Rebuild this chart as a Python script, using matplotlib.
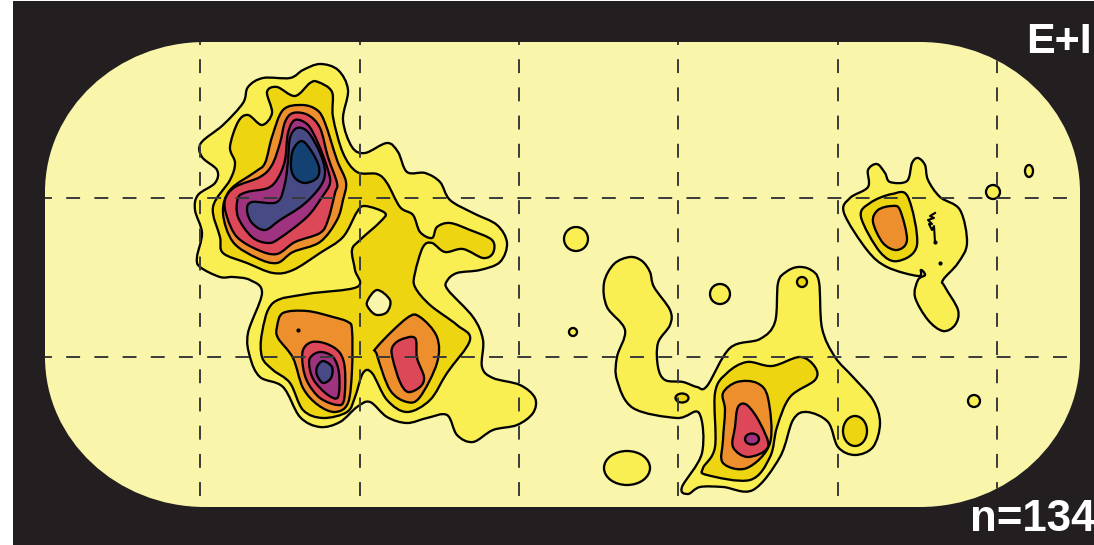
import numpy as np
import matplotlib
matplotlib.use("Agg")
import matplotlib.pyplot as plt
from matplotlib.path import Path
from matplotlib.patches import PathPatch, Ellipse, Rectangle

plt.rcParams['font.family'] = ['Liberation Sans', 'DejaVu Sans']

# ---- level colours ----
BASE, YEL, GOLD, ORG, RED, PUR, IND, BLU = ('#F9F6AB', '#F9EF52', '#EED511', '#EE8F2E',
                                            '#DC4858', '#A03380', '#484A86', '#134272')
DARK = '#231F20'

grid_x = [200, 360, 519, 678, 838, 997]
grid_y = [198, 357]
label_top = "E+I"
label_bottom = "n=134"

# ---- contour outlines ----
west_yellow = [(320,64),(338,70),(348,90),(343,120),(352,147),(365,153),(387,143),(398,152),(407,172),
    (425,173),(440,182),(450,200),(473,213),(497,225),(507,243),(500,262),(480,270),(457,273),(447,281),
    (448,290),(473,317),(483,340),(482,367),(493,378),(520,385),(535,398),(533,413),(517,425),(493,430),
    (473,442),(457,435),(447,415),(427,418),(407,423),(387,417),(370,402),(357,407),(340,422),(320,427),
    (300,417),(283,387),(260,377),(250,357),(248,333),(262,293),(250,280),(233,277),(220,277),(200,267),
    (197,257),(202,233),(195,210),(198,195),(215,183),(217,170),(202,157),(201,143),(223,125),(243,103),
    (248,87),(263,78),(290,78),(303,70)]
west_gold = [(318,82),(332,92),(333,117),(343,153),(357,172),(377,174),(387,183),(400,207),(413,215),
    (420,232),(432,238),(437,227),(450,223),(470,230),(492,240),(493,253),(483,258),(463,249),(445,252),
    (432,243),(423,247),(415,273),(415,287),(430,305),(457,325),(470,340),(447,373),(430,400),(407,412),
    (387,400),(372,373),(363,373),(355,397),(347,412),(323,418),(303,410),(290,383),(273,370),(262,357),
    (262,333),(273,303),(307,294),(357,287),(355,270),(352,250),(360,240),(380,222),(385,213),(365,206),
    (357,212),(343,237),(320,253),(293,270),(273,273),(247,263),(223,253),(220,237),(213,207),(230,180),
    (235,163),(230,147),(238,122),(248,115),(262,125),(272,113),(267,92),(277,87),(295,96),(310,83)]
west_hole = [(367,302),(377,290),(390,300),(387,312),(377,315),(370,310)]
upper_orange = [(302,105),(317,110),(325,123),(337,160),(346,182),(343,200),(337,220),(320,242),(293,252),
    (277,263),(257,258),(233,242),(223,213),(230,190),(255,172),(265,163),(272,137),(283,110)]
upper_red = [(293,113),(308,115),(320,128),(328,157),(337,183),(335,193),(328,220),(320,233),(295,242),
    (277,254),(258,250),(237,237),(227,217),(225,200),(235,187),(260,177),(272,165),(280,143),(285,122)]
upper_purple = [(295,120),(308,125),(318,143),(327,167),(330,183),(322,197),(307,217),(280,238),(268,243),
    (252,237),(238,217),(238,198),(247,192),(268,188),(278,178),(285,160),(288,133)]
upper_indigo = [(297,128),(308,132),(320,153),(325,172),(320,187),(303,205),(280,220),(265,230),(252,223),
    (247,210),(252,202),(277,202),(285,183),(288,160),(290,138)]
upper_blue = [(302,141),(312,152),(319,167),(317,178),(305,183),(295,178),(291,167),(293,150)]
lowl_orange = [(277,327),(283,313),(307,311),(333,317),(348,322),(352,330),(352,370),(348,403),(335,412),
    (318,405),(303,388),(293,358),(278,338)]
lowl_red = [(303,350),(312,342),(327,344),(340,353),(345,370),(344,400),(337,405),(320,398),(308,383),(303,367)]
lowl_purple = [(310,358),(320,352),(333,357),(339,373),(338,397),(328,395),(315,382),(310,370)]
lowl_indigo = [(317,367),(323,361),(332,367),(331,378),(323,383),(317,375)]
lowr_orange = [(377,347),(407,318),(420,317),(437,337),(437,363),(420,397),(407,402),(390,390),(377,355)]
lowr_red = [(392,348),(400,340),(415,338),(417,358),(424,377),(420,387),(408,392),(400,382),(393,360)]
mid_yellow = [(630,257),(642,261),(650,272),(654,287),(670,310),(670,325),(658,343),(658,367),(665,380),(683,382),
    (697,387),(707,386),(730,348),(760,339),(775,322),(778,283),(786,272),(798,267),(811,270),(819,282),(822,328),(835,357),
    (853,377),(873,400),(880,423),(873,447),(855,455),(838,447),(828,422),(807,412),(793,420),(780,457),
    (753,490),(723,487),(700,487),(688,494),(682,487),(702,453),(699,413),(677,418),(633,408),(617,380),
    (617,357),(625,330),(607,307),(604,283),(614,264)]
mid_gold = [(747,362),(772,366),(800,357),(815,367),(815,380),(790,397),(777,427),(770,457),(750,480),
    (707,475),(703,468),(715,447),(715,393),(727,373)]
mid_orange = [(723,393),(737,382),(757,383),(768,398),(770,443),(747,468),(723,463),(723,440),(725,410)]
mid_red = [(738,407),(747,405),(760,423),(768,447),(748,457),(733,447),(735,427)]
east_yellow = [(877,164),(885,173),(890,182),(907,181),(912,163),(918,158),(925,165),(928,180),(940,197),
    (960,210),(967,243),(958,263),(943,280),(945,287),(958,310),(955,325),(943,331),(928,320),(915,297),
    (918,280),(925,275),(921,270),(918,276),(887,267),(867,250),(844,213),(850,198),(868,187),(868,170)]
east_gold = [(892,194),(908,197),(917,245),(898,261),(880,252),(861,217),(870,203)]
east_orange = [(892,206),(900,210),(907,240),(897,250),(883,243),(873,222),(878,210)]
speck_line = [(935,213),(930,216),(934,218),(928,220),(932,224),(929,224),(932,230),(934,226),(935,242)]

regions = [(west_yellow, YEL), (west_gold, GOLD), (west_hole, BASE),
           (upper_orange, ORG), (upper_red, RED), (upper_purple, PUR), (upper_indigo, IND), (upper_blue, BLU),
           (lowl_orange, ORG), (lowl_red, RED), (lowl_purple, PUR), (lowl_indigo, IND),
           (lowr_orange, ORG), (lowr_red, RED),
           (mid_yellow, YEL), (mid_gold, GOLD), (mid_orange, ORG), (mid_red, RED),
           (east_yellow, YEL), (east_gold, GOLD), (east_orange, ORG)]

# small closed contours: centre x, centre y, half-width, half-height
blob_x = [627, 720, 576, 573, 974, 993, 1029, 855, 682, 802, 752]
blob_y = [468, 294, 239, 332, 401, 192, 171, 431, 398, 282, 439]
blob_a = [23, 10, 12, 4, 6, 7, 4, 12, 6.5, 5, 7]
blob_b = [17, 10, 12, 4, 6, 7, 6, 15, 4.5, 5, 5.5]
blob_c = [YEL, YEL, YEL, YEL, YEL, YEL, YEL, GOLD, GOLD, GOLD, PUR]

dot_x = [298, 935, 940]
dot_y = [330, 242, 263]


def smooth_path(pts):
    """Closed outline through the read vertices, as cubic Bezier segments."""
    p = np.asarray(pts, float)
    n = len(p)
    verts, codes = [p[0]], [Path.MOVETO]
    for i in range(n):
        p0, p1, p2, p3 = p[(i - 1) % n], p[i], p[(i + 1) % n], p[(i + 2) % n]
        verts += [p1 + (p2 - p0) / 6, p2 - (p3 - p1) / 6, p2]
        codes += [Path.CURVE4] * 3
    return Path(verts, codes)


def rounded_panel(x0, y0, x1, y1, rx, ry):
    kx, ky = 0.5523 * rx, 0.5523 * ry
    v = [(x0 + rx, y0), (x1 - rx, y0), (x1 - rx + kx, y0), (x1, y0 + ry - ky), (x1, y0 + ry),
         (x1, y1 - ry), (x1, y1 - ry + ky), (x1 - rx + kx, y1), (x1 - rx, y1),
         (x0 + rx, y1), (x0 + rx - kx, y1), (x0, y1 - ry + ky), (x0, y1 - ry),
         (x0, y0 + ry), (x0, y0 + ry - ky), (x0 + rx - kx, y0), (x0 + rx, y0)]
    c = [Path.MOVETO, Path.LINETO, Path.CURVE4, Path.CURVE4, Path.CURVE4,
         Path.LINETO, Path.CURVE4, Path.CURVE4, Path.CURVE4,
         Path.LINETO, Path.CURVE4, Path.CURVE4, Path.CURVE4,
         Path.LINETO, Path.CURVE4, Path.CURVE4, Path.CURVE4]
    return Path(v, c)


fig = plt.figure(figsize=(10.94, 5.45), dpi=100, facecolor='white')
ax = fig.add_axes([0, 0, 1, 1])
ax.set_xlim(0, 1094)
ax.set_ylim(545, 0)
ax.axis('off')

ax.add_patch(Rectangle((13, 1), 1081, 544, fc=DARK, ec='none', zorder=1))
panel = PathPatch(rounded_panel(45, 42, 1080, 507, 160, 150), fc=BASE, ec='none', zorder=2)
ax.add_patch(panel)

LW = 1.65
for pts, col in regions:
    ax.add_patch(PathPatch(smooth_path(pts), fc=col, ec='black', lw=LW, zorder=3))
for x, y, a, b, c in zip(blob_x, blob_y, blob_a, blob_b, blob_c):
    ax.add_patch(Ellipse((x, y), 2 * a, 2 * b, fc=c, ec='black', lw=LW, zorder=3))
ax.plot(*zip(*speck_line), color='black', lw=1.5, zorder=4)
ax.scatter(dot_x, dot_y, s=9, color='black', lw=0, zorder=4)

dash = (0, (7.15, 7.35))
for x in grid_x:
    ln, = ax.plot([x, x], [31, 507], color='#3A3A3A', lw=1.4, ls=dash, zorder=5)
    ln.set_clip_path(panel)
for y in grid_y:
    ln, = ax.plot([38, 1080], [y, y], color='#3A3A3A', lw=1.4, ls=dash, zorder=5)
    ln.set_clip_path(panel)

ax.text(1092, 53, label_top, color='white', fontsize=31, fontweight='bold', ha='right', va='baseline', zorder=6)
ax.text(1095, 531, label_bottom, color='white', fontsize=31.5, fontweight='bold', ha='right', va='baseline', zorder=6)

fig.savefig('out.png', dpi=100)
